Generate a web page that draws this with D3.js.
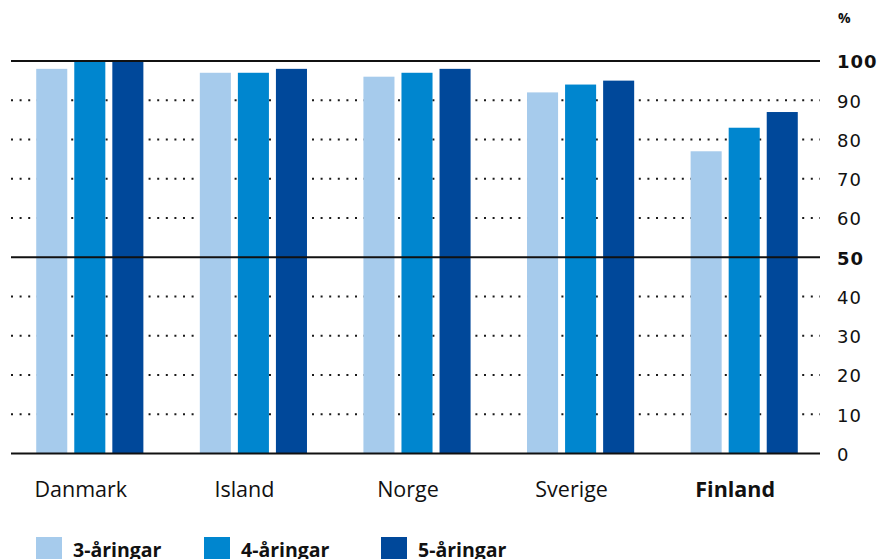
<!DOCTYPE html>
<html>
<head>
<meta charset="utf-8">
<script src="https://cdn.jsdelivr.net/npm/d3@7"></script>
<style>
  body { margin: 0; background: #fff; }
  text { font-family: "Open Sans", Lato, sans-serif; fill: #111; }
</style>
</head>
<body>
<div id="chart"></div>
<script>
// data
const countries = ["Danmark", "Island", "Norge", "Sverige", "Finland"];
const seriesNames = ["3-åringar", "4-åringar", "5-åringar"];
const age3 = [98, 97, 96, 92, 77];
const age4 = [100, 97, 97, 94, 83];
const age5 = [100, 98, 98, 95, 87];
const yTicks = [0, 10, 20, 30, 40, 50, 60, 70, 80, 90, 100];
const boldTicks = [0, 50, 100];

const colors = ["#a6cbec", "#0086cf", "#00489a"];
const width = 893, height = 559;

const rows = countries.map((c, i) => ({
  country: c,
  values: [age3[i], age4[i], age5[i]]
}));

const svg = d3.select("#chart").append("svg")
  .attr("width", width)
  .attr("height", height);

// scales
const xScale = d3.scaleBand()
  .domain(countries)
  .range([8, 826])
  .paddingInner(0.345)
  .paddingOuter(0.1725);

const xSub = d3.scaleBand()
  .domain(seriesNames)
  .range([0, xScale.bandwidth()])
  .paddingInner(0.184)
  .paddingOuter(0);

const yScale = d3.scaleLinear()
  .domain([0, 100])
  .range([453.5, 61]);

// dotted grid lines
svg.append("g").attr("class", "grid")
  .selectAll("line")
  .data(yTicks.filter(d => !boldTicks.includes(d)))
  .join("line")
  .attr("x1", 11)
  .attr("x2", 820)
  .attr("y1", d => yScale(d))
  .attr("y2", d => yScale(d))
  .attr("stroke", "#1a1a1a")
  .attr("stroke-width", 2)
  .attr("stroke-dasharray", "2 6.6");

// bars
const groups = svg.append("g").attr("class", "bars")
  .selectAll("g")
  .data(rows)
  .join("g")
  .attr("transform", d => `translate(${xScale(d.country)},0)`);

groups.selectAll("rect")
  .data(d => d.values.map((v, j) => ({ key: seriesNames[j], value: v, j })))
  .join("rect")
  .attr("x", d => xSub(d.key))
  .attr("width", xSub.bandwidth())
  .attr("y", d => yScale(d.value))
  .attr("height", d => yScale(0) - yScale(d.value))
  .attr("fill", d => colors[d.j]);

// solid lines at 0, 50, 100
svg.append("g").selectAll("line")
  .data(boldTicks)
  .join("line")
  .attr("x1", 11)
  .attr("x2", 820)
  .attr("y1", d => yScale(d))
  .attr("y2", d => yScale(d))
  .attr("stroke", "#111")
  .attr("stroke-width", 2.2);

// right axis labels
svg.append("g").selectAll("text")
  .data(yTicks)
  .join("text")
  .attr("x", 837)
  .attr("y", d => yScale(d) + 1)
  .attr("dy", "0.36em")
  .style("font-family", "'DejaVu Sans', sans-serif")
  .style("font-size", "18px")
  .style("letter-spacing", "1px")
  .style("font-weight", d => (d === 50 || d === 100) ? "700" : "400")
  .text(d => d);

svg.append("text")
  .attr("x", 838)
  .attr("y", 23)
  .style("font-size", "14px")
  .style("font-weight", "700")
  .text("%");

// country labels
svg.append("g").selectAll("text")
  .data(countries)
  .join("text")
  .attr("x", d => xScale(d) + xScale.bandwidth() / 2 - 9)
  .attr("y", 497)
  .attr("text-anchor", "middle")
  .style("font-size", "21.5px")
  .style("font-weight", d => d === "Finland" ? "700" : "400")
  .text(d => d);

// legend
const legendX = [36, 204, 381];
const legend = svg.append("g").selectAll("g")
  .data(seriesNames)
  .join("g")
  .attr("transform", (d, i) => `translate(${legendX[i]},537)`);

legend.append("rect")
  .attr("width", 26)
  .attr("height", 26)
  .attr("fill", (d, i) => colors[i]);

legend.append("text")
  .attr("x", 37)
  .attr("y", 20)
  .style("font-size", "19.5px")
  .style("font-weight", "700")
  .text(d => d);
</script>
</body>
</html>
